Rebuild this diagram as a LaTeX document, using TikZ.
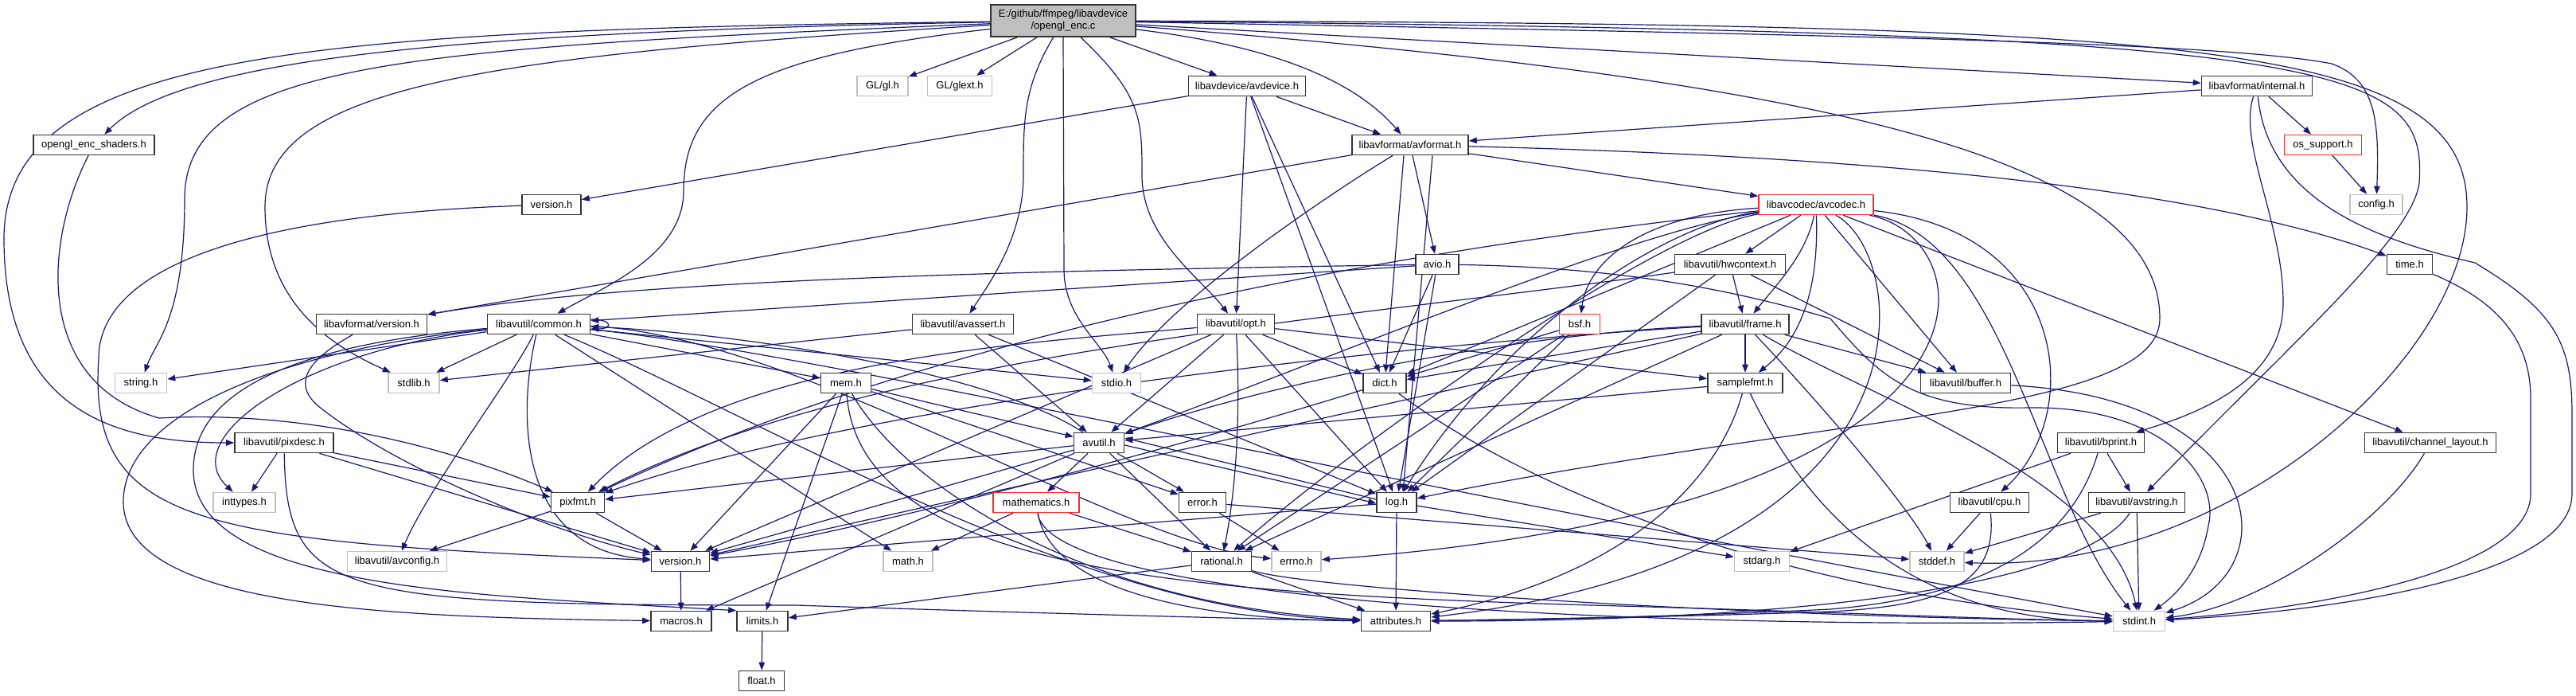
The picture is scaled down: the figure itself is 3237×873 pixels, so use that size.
\documentclass[tikz,border=0pt]{standalone}
\usepackage{fontspec}
\setmainfont{Liberation Sans}
\usetikzlibrary{arrows.meta}
\definecolor{edgec}{RGB}{25,25,112}
\definecolor{gborder}{RGB}{191,191,191}
\definecolor{mainfill}{RGB}{191,191,191}
\definecolor{rborder}{RGB}{255,40,40}
\pgfdeclarelayer{bglayer}
\pgfdeclarelayer{edgelayer}
\pgfsetlayers{bglayer,edgelayer,main}
\newcommand\nfont{\fontsize{13}{15}\selectfont}
\newcommand\mkbox[6]{\node[#1, minimum width=#2pt] (#3) at (#4,#5) {#6};}
\begin{document}
\begin{tikzpicture}[x=1pt,y=-1pt,
  box/.style={draw=black!80, line width=1.6pt, fill=white, minimum height=25pt, inner sep=0pt, font=\nfont},
  gbox/.style={box, draw=gborder},
  rbox/.style={box, draw=rborder},
  mbox/.style={box, fill=mainfill, minimum height=40pt, align=center},
  dep/.style={draw=edgec, line width=1.2pt, -{Triangle[length=10pt,width=7.5pt]}}]
\begin{pgfonlayer}{bglayer}
\fill[white] (0,0) rectangle (3237,873);
\end{pgfonlayer}
\useasboundingbox (0,0) rectangle (3237,873);
% nodes
\mkbox{mbox}{182}{main}{1336}{26}{E:/github/ffmpeg/libavdevice\\/opengl\_enc.c}
\mkbox{gbox}{64}{glh}{1109}{108}{GL/gl.h}
\mkbox{gbox}{81}{glext}{1206}{108}{GL/glext.h}
\mkbox{box}{147}{avdevice}{1567}{108}{libavdevice/avdevice.h}
\mkbox{box}{139}{internal}{2836}{108}{libavformat/internal.h}
\mkbox{box}{152}{shaders}{118}{182}{opengl\_enc\_shaders.h}
\mkbox{box}{146}{avformat}{1772}{182}{libavformat/avformat.h}
\mkbox{rbox}{97}{ossupport}{2919}{182}{os\_support.h}
\mkbox{box}{74}{lavdver}{693}{257}{version.h}
\mkbox{rbox}{144}{avcodec}{2282}{257}{libavcodec/avcodec.h}
\mkbox{gbox}{66}{config}{2986}{257}{config.h}
\mkbox{box}{54}{avio}{1806}{332}{avio.h}
\mkbox{box}{139}{hwcontext}{2174}{332}{libavutil/hwcontext.h}
\mkbox{box}{57}{timeh}{3028}{332}{time.h}
\mkbox{box}{139}{lavfver}{467}{407}{libavformat/version.h}
\mkbox{box}{129}{common}{677}{407}{libavutil/common.h}
\mkbox{box}{127}{avassert}{1210}{407}{libavutil/avassert.h}
\mkbox{box}{97}{opt}{1553}{407}{libavutil/opt.h}
\mkbox{rbox}{51}{bsf}{1985}{407}{bsf.h}
\mkbox{box}{110}{frame}{2193}{407}{libavutil/frame.h}
\mkbox{gbox}{65}{stringh}{177}{481}{string.h}
\mkbox{gbox}{64}{stdlib}{520}{481}{stdlib.h}
\mkbox{box}{63}{mem}{1063}{481}{mem.h}
\mkbox{gbox}{61}{stdio}{1403}{481}{stdio.h}
\mkbox{box}{54}{dict}{1740}{481}{dict.h}
\mkbox{box}{94}{samplefmt}{2193}{481}{samplefmt.h}
\mkbox{box}{113}{buffer}{2470}{481}{libavutil/buffer.h}
\mkbox{box}{124}{pixdesc}{357}{556}{libavutil/pixdesc.h}
\mkbox{box}{63}{avutil}{1381}{556}{avutil.h}
\mkbox{box}{109}{bprint}{2640}{556}{libavutil/bprint.h}
\mkbox{box}{165}{chlayout}{3054}{556}{libavutil/channel\_layout.h}
\mkbox{gbox}{78}{inttypes}{307}{631}{inttypes.h}
\mkbox{box}{67}{pixfmt}{726}{631}{pixfmt.h}
\mkbox{rbox}{108}{mathematics}{1302}{631}{mathematics.h}
\mkbox{box}{59}{error}{1511}{631}{error.h}
\mkbox{box}{50}{log}{1755}{631}{log.h}
\mkbox{box}{99}{cpu}{2500}{631}{libavutil/cpu.h}
\mkbox{box}{121}{avstring}{2685}{631}{libavutil/avstring.h}
\mkbox{gbox}{125}{avconfig}{499}{705}{libavutil/avconfig.h}
\mkbox{box}{73}{version}{855}{705}{version.h}
\mkbox{gbox}{62}{math}{1141}{705}{math.h}
\mkbox{box}{75}{rational}{1535}{705}{rational.h}
\mkbox{gbox}{62}{errno}{1629}{705}{errno.h}
\mkbox{gbox}{69}{stdarg}{2214}{705}{stdarg.h}
\mkbox{gbox}{68}{stddef}{2434}{705}{stddef.h}
\mkbox{box}{76}{macros}{856}{780}{macros.h}
\mkbox{box}{64}{limits}{958}{780}{limits.h}
\mkbox{box}{87}{attributes}{1754}{780}{attributes.h}
\mkbox{gbox}{65}{stdint}{2688}{780}{stdint.h}
\mkbox{box}{57}{floath}{957}{855}{float.h}
% edges
\begin{pgfonlayer}{edgelayer}
% main
\draw[dep] (main) .. controls (600,40) and (230,70) .. (shaders);
\draw[dep] (main) .. controls (400,38) and (5,60) .. (5,300) .. controls (5,520) and (150,556) .. (pixdesc);
\draw[dep] (main) .. controls (500,60) and (232,80) .. (232,250) .. controls (232,400) and (195,430) .. (stringh);
\draw[dep] (main) .. controls (600,70) and (333,110) .. (333,260) .. controls (333,390) and (430,440) .. (stdlib);
\draw[dep] (main) .. controls (950,70) and (859,120) .. (859,240) .. controls (859,320) and (760,360) .. (common);
\draw[dep] (main) -- (glh);
\draw[dep] (main) -- (glext);
\draw[dep] (main) .. controls (1286,110) and (1286,150) .. (1286,220) .. controls (1286,300) and (1240,360) .. (avassert);
\draw[dep] (main.south) -- (1337,340) .. controls (1338,400) and (1385,430) .. (stdio);
\draw[dep] (main) .. controls (1435,120) and (1435,150) .. (1435,220) .. controls (1435,300) and (1510,350) .. (opt);
\draw[dep] (main) -- (avdevice);
\draw[dep] (main) .. controls (1620,60) and (1710,110) .. (avformat);
\draw[dep] (main) -- (internal);
\draw[dep] (main) .. controls (2400,45) and (2800,55) .. (2930,80) .. controls (2985,100) and (2990,150) .. (config);
\draw[dep] (main) .. controls (2750,30) and (3100,50) .. (3100,260) .. controls (3100,450) and (2800,720) .. (stddef);
\draw[dep] (main) .. controls (2950,40) and (3050,80) .. (3040,230) .. controls (3030,300) and (2880,430) .. (avstring);
\draw[dep] (main) .. controls (2300,100) and (2714,200) .. (2714,400) .. controls (2714,520) and (2300,520) .. (log);
% avdevice
\draw[dep] (avdevice) -- (lavdver);
\draw[dep] (avdevice) -- (avformat);
\draw[dep] (avdevice) -- (opt);
\draw[dep] (avdevice) -- (dict);
\draw[dep] (avdevice) -- (log);
% avformat
\draw[dep] (avformat) -- (lavfver);
\draw[dep] (avformat) -- (avio);
\draw[dep] ([xshift=-8pt]avformat.south) -- (dict);
\draw[dep] ([xshift=28pt]avformat.south) -- ([xshift=8pt]log.north);
\draw[dep] (avformat) -- (avcodec);
\draw[dep] (avformat) .. controls (2300,195) and (2750,230) .. (timeh);
\draw[dep] (avformat) .. controls (1660,250) and (1470,380) .. (stdio);
% internal
\draw[dep] (internal) -- (avformat);
\draw[dep] (internal) -- (ossupport);
\draw[dep] (internal) .. controls (2812,180) and (2869,280) .. (2869,380) .. controls (2869,480) and (2760,520) .. (bprint);
\draw[dep] (internal) .. controls (2850,250) and (2980,300) .. (3110,330) .. controls (3210,390) and (3232,430) .. (3232,520) -- (3232,620) .. controls (3232,730) and (2900,770) .. (stdint);
\draw[dep] (ossupport) -- (config);
\draw[dep] (timeh) .. controls (3130,375) and (3180,420) .. (3180,500) -- (3180,620) .. controls (3180,720) and (2900,765) .. (stdint);
% versions
\draw[dep] (lavdver) .. controls (300,270) and (124,340) .. (124,450) .. controls (110,660) and (250,680) .. (version);
\draw[dep] (lavfver) .. controls (390,450) and (365,480) .. (400,510) .. controls (500,590) and (700,670) .. (version);
% avio
\draw[dep] (avio) -- (common);
\draw[dep] (avio) .. controls (1300,340) and (800,350) .. (lavfver);
\draw[dep] (avio) -- (dict);
\draw[dep] (avio) -- (log);
\draw[dep] (avio) .. controls (2000,335) and (2150,355) .. (2300,400) .. controls (2360,470) and (2400,515) .. (2550,512) .. controls (2720,510) and (2790,600) .. (2775,660) .. controls (2765,720) and (2730,750) .. (stdint);
% avcodec
\draw[dep] (avcodec) -- (hwcontext);
\draw[dep] (avcodec) .. controls (2060,270) and (1995,330) .. (bsf);
\draw[dep] (avcodec) .. controls (2270,320) and (2230,360) .. (frame);
\draw[dep] (avcodec) .. controls (2285,350) and (2270,420) .. (samplefmt);
\draw[dep] (avcodec) -- (buffer);
\draw[dep] (avcodec) -- (chlayout);
\draw[dep] (avcodec) .. controls (2600,290) and (2620,520) .. (cpu);
\draw[dep] (avcodec) .. controls (2050,290) and (1700,440) .. (avutil);
\draw[dep] (avcodec) -- (dict);
\draw[dep] (avcodec) .. controls (2100,280) and (1900,400) .. (log);
\draw[dep] (avcodec) .. controls (2080,290) and (1700,560) .. (rational);
\draw[dep] (avcodec) .. controls (1700,320) and (1150,430) .. (pixfmt);
\draw[dep] (avcodec) .. controls (2500,300) and (2550,640) .. (errno);
\draw[dep] (avcodec) .. controls (2400,320) and (2450,700) .. (attributes);
\draw[dep] (avcodec) .. controls (2520,300) and (2560,620) .. (stdint);
% hwcontext
\draw[dep] (hwcontext) -- (frame);
\draw[dep] (hwcontext) -- (buffer);
\draw[dep] (hwcontext) -- (log);
\draw[dep] (hwcontext) .. controls (1700,400) and (1100,440) .. (pixfmt);
% bsf
\draw[dep] (bsf) -- (dict);
\draw[dep] (bsf) -- (log);
\draw[dep] (bsf) -- (rational);
% frame
\draw[dep] (frame) -- (samplefmt);
\draw[dep] (frame) .. controls (1900,420) and (1600,480) .. (avutil);
\draw[dep] (frame) -- (buffer);
\draw[dep] (frame) -- (dict);
\draw[dep] (frame) -- (rational);
\draw[dep] (frame) .. controls (1800,430) and (1100,500) .. (pixfmt);
\draw[dep] (frame) -- (version);
\draw[dep] (frame) .. controls (2300,520) and (2400,640) .. (stddef);
\draw[dep] (frame) .. controls (2350,500) and (2650,600) .. (stdint);
% samplefmt, buffer, chlayout
\draw[dep] (samplefmt) -- (avutil);
\draw[dep] (samplefmt) .. controls (2160,600) and (2050,720) .. (attributes);
\draw[dep] (samplefmt) .. controls (2260,620) and (2380,780) .. (stdint);
\draw[dep] (buffer) .. controls (2850,500) and (2880,720) .. (stdint);
\draw[dep] (chlayout) .. controls (3000,650) and (2850,760) .. (stdint);
% opt
\draw[dep] (opt) -- (avutil);
\draw[dep] (opt) .. controls (1558,500) and (1556,600) .. (rational);
\draw[dep] (opt) -- (dict);
\draw[dep] (opt) -- (log);
\draw[dep] (opt) -- (samplefmt);
\draw[dep] (opt) .. controls (1300,430) and (900,450) .. (pixfmt);
\draw[dep] (opt) -- (version);
% avassert
\draw[dep] (avassert) -- (stdlib);
\draw[dep] (avassert) -- (avutil);
\draw[dep] (avassert) -- (log);
% common
\draw[dep] (common) -- (stringh);
\draw[dep] (common) -- (stdlib);
\draw[dep] (common) .. controls (380,440) and (220,550) .. (inttypes);
\draw[dep] (common) .. controls (400,430) and (243,480) .. (243,590) .. controls (243,740) and (600,748) .. (limits.north west);
\draw[dep] (common) .. controls (350,440) and (155,520) .. (155,630) .. controls (155,765) and (500,775) .. (macros);
\draw[dep] (common) .. controls (640,480) and (540,610) .. (avconfig);
\draw[dep] (common) .. controls (650,520) and (650,690) .. (version);
\draw[dep] (common) -- (math);
\draw[dep] (common) -- (mem);
\draw[dep] (common) -- (stdio);
\draw[dep] (common) .. controls (1000,420) and (1400,680) .. (errno);
\draw[dep] (common) .. controls (950,520) and (1350,770) .. (attributes);
\draw[dep] (common) .. controls (1000,440) and (1500,560) .. (stdint);
\draw[dep] ([yshift=6pt]common.east) .. controls +(28,0) and +(28,0) .. ([yshift=-6pt]common.east);
% pixdesc, shaders
\draw[dep] (pixdesc) -- (inttypes);
\draw[dep] (pixdesc) -- (pixfmt);
\draw[dep] (pixdesc) -- (version);
\draw[dep] (pixdesc) .. controls (360,750) and (420,760) .. (1000,760) .. controls (1300,770) and (1600,778) .. (attributes);
\draw[dep] (shaders) .. controls (57,300) and (40,480) .. (200,525) .. controls (380,515) and (560,560) .. (pixfmt);
% mem
\draw[dep] (mem) -- (limits);
\draw[dep] (mem) -- (avutil);
\draw[dep] (mem) -- (error);
\draw[dep] (mem) -- (version);
\draw[dep] (mem) .. controls (1130,600) and (1350,760) .. (attributes);
\draw[dep] (mem) .. controls (1080,720) and (1500,745) .. (2000,760) .. controls (2300,768) and (2500,778) .. (stdint);
% avutil
\draw[dep] (avutil) .. controls (1250,470) and (950,420) .. (common);
\draw[dep] (avutil) -- (error);
\draw[dep] (avutil) -- (rational);
\draw[dep] (avutil) -- (version);
\draw[dep] (avutil) -- (macros);
\draw[dep] (avutil) -- (mathematics);
\draw[dep] ([yshift=-3pt]avutil.east) -- ([yshift=-1pt]log.west);
\draw[dep] ([yshift=4pt]log.west) -- ([yshift=6pt]avutil.east);
\draw[dep] (avutil) -- (pixfmt);
% log
\draw[dep] (log) -- (stdarg);
\draw[dep] (log) -- (attributes);
\draw[dep] (log) -- (version);
% mathematics
\draw[dep] (mathematics) -- (math);
\draw[dep] (mathematics) -- (rational);
\draw[dep] (mathematics) .. controls (1320,740) and (1500,778) .. (attributes);
\draw[dep] (mathematics) .. controls (1320,760) and (2100,790) .. (stdint);
% error, rational, dict
\draw[dep] (error) -- (errno);
\draw[dep] (error) -- (stddef);
\draw[dep] (rational) -- (limits);
\draw[dep] (rational) -- (attributes);
\draw[dep] (rational) .. controls (1650,740) and (2200,775) .. (stdint);
\draw[dep] (dict) .. controls (1900,600) and (2200,740) .. (stdint);
\draw[dep] (dict) .. controls (1550,540) and (1200,640) .. (version);
% pixfmt, version, limits
\draw[dep] (pixfmt) -- (avconfig);
\draw[dep] (pixfmt) -- (version);
\draw[dep] (version) -- (macros);
\draw[dep] (limits) -- (floath);
% cpu, bprint, avstring
\draw[dep] (cpu) -- (stddef);
\draw[dep] (cpu) .. controls (2510,730) and (2450,760) .. (2300,768) .. controls (2100,775) and (1900,778) .. (attributes);
\draw[dep] (bprint) -- (stdarg);
\draw[dep] (bprint) .. controls (2600,690) and (2480,750) .. (2300,765) .. controls (2100,775) and (1900,778) .. (attributes);
\draw[dep] (bprint) -- (avstring);
\draw[dep] (avstring) -- (stddef);
\draw[dep] (avstring) -- (stdint);
\draw[dep] (avstring) .. controls (2620,730) and (2300,780) .. (attributes);
\end{pgfonlayer}
\end{tikzpicture}
\end{document}
